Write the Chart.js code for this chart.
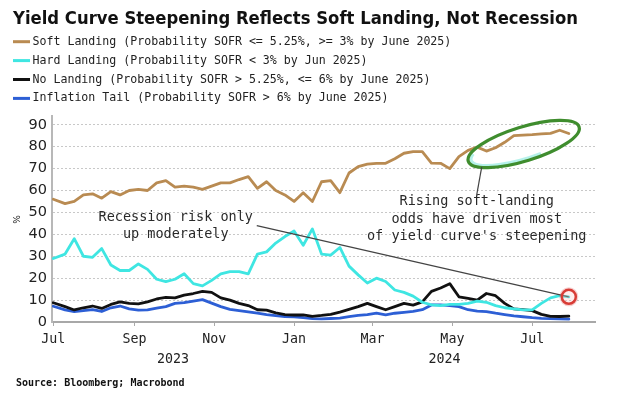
<!DOCTYPE html>
<html>
<head>
<meta charset="utf-8">
<script src="https://cdn.jsdelivr.net/npm/chart.js@4.4.0/dist/chart.umd.min.js"></script>
<style>
  html, body { margin: 0; padding: 0; background: #fff; overflow: hidden; }
</style>
</head>
<body>
<canvas id="chart" width="620" height="405"></canvas>
<script>
const dates = [
  "2023-07-01", "2023-07-10", "2023-07-17", "2023-07-24", "2023-07-31",
  "2023-08-07", "2023-08-14", "2023-08-21", "2023-08-28",
  "2023-09-04", "2023-09-11", "2023-09-18", "2023-09-25",
  "2023-10-02", "2023-10-09", "2023-10-16", "2023-10-23", "2023-10-30",
  "2023-11-06", "2023-11-13", "2023-11-20", "2023-11-27",
  "2023-12-04", "2023-12-11", "2023-12-18", "2023-12-25",
  "2024-01-01", "2024-01-08", "2024-01-15", "2024-01-22", "2024-01-29",
  "2024-02-05", "2024-02-12", "2024-02-19", "2024-02-26",
  "2024-03-04", "2024-03-11", "2024-03-18", "2024-03-25",
  "2024-04-01", "2024-04-08", "2024-04-15", "2024-04-22", "2024-04-29",
  "2024-05-06", "2024-05-13", "2024-05-20", "2024-05-27",
  "2024-06-03", "2024-06-10", "2024-06-17", "2024-06-24",
  "2024-07-01", "2024-07-08", "2024-07-15", "2024-07-22", "2024-07-29"
];

const softLanding = [
  56, 54, 55, 58, 58.5, 56.5, 59.5, 58, 60, 60.5,
  60, 63.5, 64.5, 61.5, 62, 61.5, 60.5, 62, 63.5, 63.5,
  65, 66.3, 61, 64, 60, 58, 55, 59, 55, 64,
  64.5, 59, 68, 70.9, 72, 72.4, 72.4, 74.5, 77, 77.7,
  77.7, 72.5, 72.4, 70, 75.5, 78.3, 79.8, 78, 79.5, 82,
  85, 85.3, 85.5, 85.8, 86.1, 87.5, 86
];
const hardLanding = [
  29, 31, 38, 30, 29.5, 33.5, 26, 23.5, 23.5, 26.5,
  24, 19.5, 18.4, 19.5, 22, 17.5, 16.5, 19, 22, 23,
  23, 22, 31, 32, 36, 39, 41.5, 35, 42.5, 31,
  30.5, 34, 25.5, 21.5, 17.8, 20, 18.5, 14.6, 13.5, 11.8,
  9, 7.8, 7.5, 8, 8, 8.5, 9.5, 9, 7.5, 6.5,
  6, 5.5, 5.5, 8.5, 11, 12, 11.5
];
const noLanding = [
  8.8, 7, 5.5, 6.5, 7.3, 6.2, 8, 9.2, 8.5, 8.3,
  9.2, 10.5, 11.2, 11, 12.3, 13, 14, 13.5, 11, 10,
  8.5, 7.5, 5.6, 5.4, 4.2, 3.4, 3.2, 3.2, 2.6, 3,
  3.5, 4.5, 5.8, 7, 8.5, 7, 5.6, 7, 8.5, 7.7,
  9.2, 14, 15.5, 17.5, 11.5, 10.8, 10, 13, 12, 8.5,
  6, 5.6, 5.2, 3.5, 2.6, 2.5, 2.7
];
const inflationTail = [
  7.2, 5.5, 4.7, 5.2, 5.6, 4.8, 6.5, 7.3, 6, 5.4,
  5.5, 6.3, 7, 8.5, 8.8, 9.5, 10.2, 8.6, 7, 5.8,
  5.2, 4.6, 4, 3.4, 2.9, 2.5, 2.3, 2, 1.5, 1.4,
  1.6, 1.8, 2.5, 3, 3.4, 4, 3.3, 4, 4.4, 4.8,
  5.6, 7.8, 7.8, 7.5, 7, 5.6, 5, 4.7, 4, 3.4,
  2.8, 2.4, 2, 1.7, 1.5, 1.4, 1.3
];

const seriesLabels = [
  "Soft Landing (Probability SOFR <= 5.25%, >= 3% by June 2025)",
  "Hard Landing (Probability SOFR < 3% by Jun 2025)",
  "No Landing (Probability SOFR > 5.25%, <= 6% by June 2025)",
  "Inflation Tail (Probability SOFR > 6% by June 2025)"
];
const seriesColors = ["#b98b52", "#3fe6e2", "#111111", "#2d5fd5"];

const tickDates = ["2023-07-01", "2023-09-01", "2023-11-01", "2024-01-01", "2024-03-01", "2024-05-01", "2024-07-01"];
const tickLabels = ["Jul", "Sep", "Nov", "Jan", "Mar", "May", "Jul"];
const yearLabels = ["2023", "2024"];
const yTicks = [0, 10, 20, 30, 40, 50, 60, 70, 80, 90];

const title = "Yield Curve Steepening Reflects Soft Landing, Not Recession";
const source = "Source: Bloomberg; Macrobond";
const recessionNote = ["Recession risk only", "up moderately"];
const softNote = ["Rising soft-landing", "odds have driven most", "of yield curve's steepening"];

// days since 1 Jul 2023
const DAY0 = Date.UTC(2023, 6, 1);
function dayOf(s) {
  const [y, m, d] = s.split("-").map(Number);
  return (Date.UTC(y, m - 1, d) - DAY0) / 86400000;
}

const allSeries = [softLanding, hardLanding, noLanding, inflationTail];
const datasets = allSeries.map((vals, i) => ({
  label: seriesLabels[i],
  data: vals.map((v, j) => ({ x: dayOf(dates[j]), y: v })),
  borderColor: seriesColors[i],
  backgroundColor: seriesColors[i],
  borderWidth: 2.8,
  pointRadius: 0,
  tension: 0,
  borderJoinStyle: "round",
  borderCapStyle: "round",
}));

const MONO = "'DejaVu Sans Mono', 'Liberation Mono', monospace";

// title, legend, year row, notes
const decor = {
  id: "decor",
  afterDatasetsDraw(chart) {
    const { ctx, scales: { x, y } } = chart;
    ctx.save();

    // green ellipse round the recent soft-landing run, cyan glow inside lower-left
    const ex = x.getPixelForValue(359.5), ey = y.getPixelForValue(81.2);
    ctx.beginPath();
    ctx.ellipse(ex, ey, 55, 14.5, -0.3, Math.PI * 0.42, Math.PI * 1.12);
    ctx.lineWidth = 3;
    ctx.strokeStyle = "rgba(150, 235, 225, 0.7)";
    ctx.stroke();
    ctx.beginPath();
    ctx.ellipse(ex, ey, 58, 17, -0.3, 0, Math.PI * 2);
    ctx.lineWidth = 3.2;
    ctx.strokeStyle = "#3f8d2e";
    ctx.stroke();

    // pointer from ellipse to note
    ctx.beginPath();
    ctx.moveTo(x.getPixelForValue(327.4), y.getPixelForValue(70.7));
    ctx.lineTo(x.getPixelForValue(323.6), y.getPixelForValue(58));
    ctx.lineWidth = 1.2;
    ctx.strokeStyle = "#444";
    ctx.stroke();

    // red marker on the last hard-landing reading
    const last = hardLanding.length - 1;
    const cx = x.getPixelForValue(dayOf(dates[last]));
    const cy = y.getPixelForValue(hardLanding[last]);
    ctx.beginPath();
    ctx.moveTo(x.getPixelForValue(155.5), y.getPixelForValue(44));
    ctx.lineTo(cx, cy);
    ctx.lineWidth = 1.2;
    ctx.strokeStyle = "#444";
    ctx.stroke();
    ctx.beginPath();
    ctx.arc(cx, cy, 8.5, 0, Math.PI * 2);
    ctx.lineWidth = 2;
    ctx.strokeStyle = "rgba(230, 120, 120, 0.35)";
    ctx.stroke();
    ctx.beginPath();
    ctx.arc(cx, cy, 7, 0, Math.PI * 2);
    ctx.fillStyle = "rgba(255, 200, 200, 0.3)";
    ctx.fill();
    ctx.lineWidth = 2.5;
    ctx.strokeStyle = "#d83c36";
    ctx.stroke();

    // notes
    ctx.fillStyle = "#2a2a2a";
    ctx.font = "13.5px " + MONO;
    ctx.textAlign = "center";
    ctx.textBaseline = "middle";
    const rx = x.getPixelForValue(93.6);
    ctx.fillText(recessionNote[0], rx, y.getPixelForValue(47.8));
    ctx.fillText(recessionNote[1], rx, y.getPixelForValue(39.7));
    const sx = x.getPixelForValue(323.6);
    [54.9, 46.8, 38.9].forEach((v, i) => ctx.fillText(softNote[i], sx, y.getPixelForValue(v)));
    ctx.restore();
  },
  afterDraw(chart) {
    const { ctx, scales: { x } } = chart;
    ctx.save();

    // title, squeezed to the reference width
    ctx.fillStyle = "#111";
    ctx.font = "bold 17px 'DejaVu Sans', sans-serif";
    ctx.textAlign = "left";
    ctx.textBaseline = "alphabetic";
    const tw = ctx.measureText(title).width;
    ctx.save();
    ctx.translate(13, 24);
    ctx.scale(565 / tw, 1);
    ctx.fillText(title, 0, 0);
    ctx.restore();

    // legend
    ctx.font = "11.6px " + MONO;
    ctx.textBaseline = "middle";
    chart.data.datasets.forEach((ds, i) => {
      const ly = 41.7 + i * 18.9;
      ctx.fillStyle = ds.borderColor;
      ctx.fillRect(13, ly - 1.5, 17, 3);
      ctx.fillStyle = "#222";
      ctx.fillText(ds.label, 32.5, ly);
    });

    // year row under the months
    const jan = x.getPixelForValue(dayOf("2024-01-01"));
    ctx.font = "13.3px " + MONO;
    ctx.textAlign = "center";
    ctx.fillText(yearLabels[0], (x.left + jan) / 2, 360);
    ctx.fillText(yearLabels[1], (jan + x.right) / 2, 360);

    // unit
    ctx.save();
    ctx.translate(18, 219.5);
    ctx.rotate(-Math.PI / 2);
    ctx.font = "9px 'DejaVu Sans', sans-serif";
    ctx.fillText("%", 0, 0);
    ctx.restore();

    // source
    ctx.textAlign = "left";
    ctx.fillStyle = "#111";
    ctx.font = "bold 10px " + MONO;
    ctx.fillText(source, 16, 383);
    ctx.restore();
  }
};

new Chart(document.getElementById("chart"), {
  type: "line",
  data: { datasets: datasets },
  options: {
    responsive: false,
    animation: false,
    devicePixelRatio: 1,
    layout: { padding: { top: 116, right: 25, bottom: 0, left: 0 } },
    plugins: {
      legend: { display: false },
      title: { display: false },
      tooltip: { enabled: false },
    },
    scales: {
      x: {
        type: "linear",
        min: -1,
        max: 414,
        afterBuildTicks: (s) => { s.ticks = tickDates.map((d) => ({ value: dayOf(d) })); },
        afterFit: (s) => { s.height = 83; },
        ticks: {
          autoSkip: false,
          maxRotation: 0,
          padding: 6,
          color: "#222",
          font: { family: MONO, size: 13.3 },
          callback: (v, i) => tickLabels[i],
        },
        grid: { drawOnChartArea: false, drawTicks: true, tickLength: 4, tickColor: "#aaa" },
        border: { display: true, color: "#a8a8a8", width: 2 },
      },
      y: {
        min: 0,
        max: 94,
        afterBuildTicks: (s) => { s.ticks = yTicks.map((v) => ({ value: v })); },
        afterFit: (s) => { s.width = 52; },
        ticks: {
          padding: 5,
          color: "#222",
          font: { family: "'DejaVu Sans', sans-serif", size: 14.5 },
        },
        grid: {
          drawTicks: false,
          lineWidth: 1,
          color: (c) => (c.tick && c.tick.value === 0 ? "rgba(0,0,0,0)" : "#c8c8c8"),
        },
        border: {
          display: true,
          color: "#b8b8b8",
          width: 2,
          dash: (c) => (c.tick && c.tick.value !== 0 ? [2, 2] : []),
        },
      },
    },
  },
  plugins: [decor],
});
</script>
</body>
</html>
